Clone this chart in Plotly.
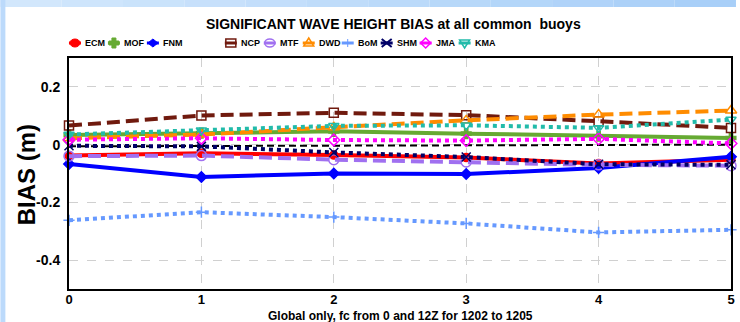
import plotly.graph_objects as go

# ---- data: forecast day vs. significant wave height bias (m) ----
lead_days = [0, 1, 2, 3, 4, 5]

ecm = [-0.038, -0.030, -0.036, -0.045, -0.065, -0.052]
mof = [0.033, 0.040, 0.046, 0.038, 0.029, 0.023]
fnm = [-0.067, -0.112, -0.100, -0.102, -0.081, -0.042]
ref = [-0.006, -0.005, -0.003, -0.003, -0.002, 0.000]
ncp = [0.066, 0.101, 0.110, 0.102, 0.081, 0.058]
mtf = [-0.040, -0.038, -0.052, -0.060, -0.070, -0.073]
dwd = [0.022, 0.035, 0.060, 0.084, 0.104, 0.118]
bom = [-0.262, -0.234, -0.251, -0.273, -0.304, -0.295]
shm = [-0.004, -0.006, -0.027, -0.043, -0.068, -0.070]
jma = [0.017, 0.022, 0.016, 0.014, 0.020, 0.004]
kma = [0.035, 0.050, 0.065, 0.067, 0.058, 0.087]

y_tick_vals = [0.2, 0, -0.2, -0.4]
y_tick_text = ["0.2", "0", "-0.2", "-0.4"]
x_tick_vals = [0, 1, 2, 3, 4, 5]

title_text = "SIGNIFICANT WAVE HEIGHT BIAS at all common  buoys"
x_title = "Global only, fc from 0 and 12Z for 1202 to 1205"
y_title = "BIAS (m)"

# ---- figure geometry (pixels) ----
W, H = 740, 322
ML, MR, MT, MB = 69, 5, 58, 33
PW = W - ML - MR
PH = H - MT - MB


def px_x(px):
    return (px - ML) / PW


def px_y(py):
    return (H - MB - py) / PH


FONT = "Liberation Sans, Arial, sans-serif"

# ---- per-series styling; legend slot None means no legend entry ----
series = [
    dict(name="ECM", y=ecm, color="#ff0000", dash="solid", width=4,
         symbol="circle", msize=8, slot=0),
    dict(name="MOF", y=mof, color="#66aa33", dash="solid", width=4,
         symbol="cross", msize=8, slot=1),
    dict(name="FNM", y=fnm, color="#0000ff", dash="solid", width=4,
         symbol="diamond", msize=8, slot=2),
    dict(name="", y=ref, color="#000000", dash="7px,4px", width=2,
         symbol=None, msize=0, slot=None),
    dict(name="NCP", y=ncp, color="#701a0e", dash="13px,6px", width=4,
         symbol="square-open", msize=9, slot=4),
    dict(name="MTF", y=mtf, color="#a070f0", dash="13px,6px", width=4,
         symbol="circle-open", msize=10, slot=5),
    dict(name="DWD", y=dwd, color="#ff8c00", dash="13px,6px", width=4,
         symbol="triangle-up-open", msize=10, slot=6),
    dict(name="BoM", y=bom, color="#6699ff", dash="4px,4px", width=4,
         symbol="cross-thin-open", msize=8, slot=7),
    dict(name="SHM", y=shm, color="#000066", dash="4px,4px", width=4,
         symbol="x-thin-open", msize=9, slot=8),
    dict(name="JMA", y=jma, color="#ff00ff", dash="4px,4px", width=4,
         symbol="diamond-open", msize=9, slot=9),
    dict(name="KMA", y=kma, color="#22bbaa", dash="4px,4px", width=4,
         symbol="triangle-down-open", msize=9, slot=10),
]

fig = go.Figure()

for s in series:
    mode = "lines+markers" if s["symbol"] else "lines"
    kw = {}
    if s["symbol"]:
        kw["marker"] = dict(symbol=s["symbol"], size=s["msize"], color=s["color"],
                            line=dict(color=s["color"], width=1.5))
    fig.add_trace(go.Scatter(
        x=lead_days, y=s["y"], mode=mode, name=s["name"] or "ref",
        line=dict(color=s["color"], width=s["width"], dash=s["dash"]),
        cliponaxis=False, showlegend=False, **kw))

# ---- hand-built legend row above the plot ----
shapes = []
annotations = []
LEG_Y = 43
LEG_X0 = 75
LEG_STEP = 39.2


def anchor(cx, cy):
    return dict(xref="paper", yref="paper", xsizemode="pixel", ysizemode="pixel",
                xanchor=px_x(cx), yanchor=px_y(cy))


def legend_marker(symbol, color, cx, cy):
    a = anchor(cx, cy)
    thin = dict(color=color, width=1.5)
    if symbol == "circle":
        return [dict(type="circle", x0=-5, x1=5, y0=-4, y1=4, fillcolor=color,
                     line=dict(color=color, width=1), **a)]
    if symbol == "cross":
        p = "M-2,-5 L2,-5 L2,-2 L5,-2 L5,2 L2,2 L2,5 L-2,5 L-2,2 L-5,2 L-5,-2 L-2,-2 Z"
        return [dict(type="path", path=p, fillcolor=color, line=dict(color=color, width=1), **a)]
    if symbol == "diamond":
        return [dict(type="path", path="M-5,0 L0,4 L5,0 L0,-4 Z", fillcolor=color,
                     line=dict(color=color, width=1), **a)]
    if symbol == "square-open":
        return [dict(type="rect", x0=-5, x1=5, y0=-4, y1=4, line=thin, **a)]
    if symbol == "circle-open":
        return [dict(type="circle", x0=-5, x1=5, y0=-4, y1=4, line=thin, **a)]
    if symbol == "triangle-up-open":
        return [dict(type="path", path="M-5,-3 L5,-3 L0,5 Z", line=thin, **a)]
    if symbol == "cross-thin-open":
        return [dict(type="path", path="M0,-4 L0,4", line=dict(color=color, width=1), **a)]
    if symbol == "x-thin-open":
        return [dict(type="path", path="M-5,-4 L5,4 M-5,4 L5,-4", line=dict(color=color, width=2), **a)]
    if symbol == "diamond-open":
        return [dict(type="path", path="M-5,0 L0,5 L5,0 L0,-5 Z", line=thin, **a)]
    if symbol == "triangle-down-open":
        return [dict(type="path", path="M-5,3 L5,3 L0,-5 Z", line=thin, **a)]
    return []


for s in series:
    if s["slot"] is None:
        continue
    cx = LEG_X0 + s["slot"] * LEG_STEP
    a = anchor(cx, LEG_Y)
    shapes.append(dict(type="line", x0=-6, x1=6, y0=0, y1=0,
                       line=dict(color=s["color"], width=3, dash="solid"), **a))
    shapes.extend(legend_marker(s["symbol"], s["color"], cx, LEG_Y))
    annotations.append(dict(
        x=px_x(cx + 8), y=px_y(LEG_Y), xref="paper", yref="paper",
        xanchor="left", yanchor="middle", showarrow=False, text=s["name"],
        font=dict(family=FONT, size=9, color="#000000", weight="bold")))

# ---- light blue page frame on the left and top edges ----
frame_l, frame_r = (0xd2, 0xe7, 0xfc), (0xa8, 0xcf, 0xf8)
nseg = 12
for i in range(nseg):
    t = i / (nseg - 1)
    c = tuple(round(frame_l[k] + (frame_r[k] - frame_l[k]) * t) for k in range(3))
    shapes.append(dict(type="rect", xref="paper", yref="paper",
                       x0=px_x(W * i / nseg), x1=px_x(W * (i + 1) / nseg),
                       y0=px_y(7), y1=px_y(0), fillcolor="rgb(%d,%d,%d)" % c,
                       line=dict(width=0), layer="below"))
shapes.append(dict(type="rect", xref="paper", yref="paper",
                   x0=px_x(0), x1=px_x(5), y0=px_y(H), y1=px_y(0),
                   fillcolor="#bcdafb", line=dict(width=0), layer="below"))

# ---- titles ----
annotations.append(dict(x=px_x(395), y=px_y(24), xref="paper", yref="paper",
                        xanchor="center", yanchor="middle", showarrow=False,
                        text=title_text,
                        font=dict(family=FONT, size=14, color="#000000", weight="bold")))
annotations.append(dict(x=0.5, y=px_y(315.5), xref="paper", yref="paper",
                        xanchor="center", yanchor="middle", showarrow=False,
                        text=x_title,
                        font=dict(family=FONT, size=12, color="#000000", weight="bold")))
annotations.append(dict(x=px_x(26), y=px_y(175), xref="paper", yref="paper",
                        xanchor="center", yanchor="middle", showarrow=False,
                        text=y_title, textangle=-90,
                        font=dict(family=FONT, size=24, color="#000000", weight="bold")))

fig.update_layout(
    width=W, height=H,
    margin=dict(l=ML, r=MR, t=MT, b=MB, pad=0),
    paper_bgcolor="#ffffff", plot_bgcolor="#ffffff",
    showlegend=False,
    shapes=shapes, annotations=annotations,
    font=dict(family=FONT, color="#000000"),
    xaxis=dict(range=[0, 5], tickvals=x_tick_vals, ticks="", showline=True,
               linecolor="#000000", linewidth=2, mirror=True,
               showgrid=True, gridcolor="#d0d0d0", gridwidth=1, griddash="dash",
               zeroline=False, ticklabelstandoff=-3,
               tickfont=dict(family=FONT, size=13, color="#000000", weight="bold")),
    yaxis=dict(range=[-0.5, 0.3], tickvals=y_tick_vals, ticktext=y_tick_text,
               ticks="", showline=True, linecolor="#000000", linewidth=2, mirror=True,
               showgrid=True, gridcolor="#d0d0d0", gridwidth=1, griddash="dash",
               zeroline=False, ticklabelstandoff=4,
               tickfont=dict(family=FONT, size=14, color="#000000", weight="bold")),
)

fig.write_html("out.html")
